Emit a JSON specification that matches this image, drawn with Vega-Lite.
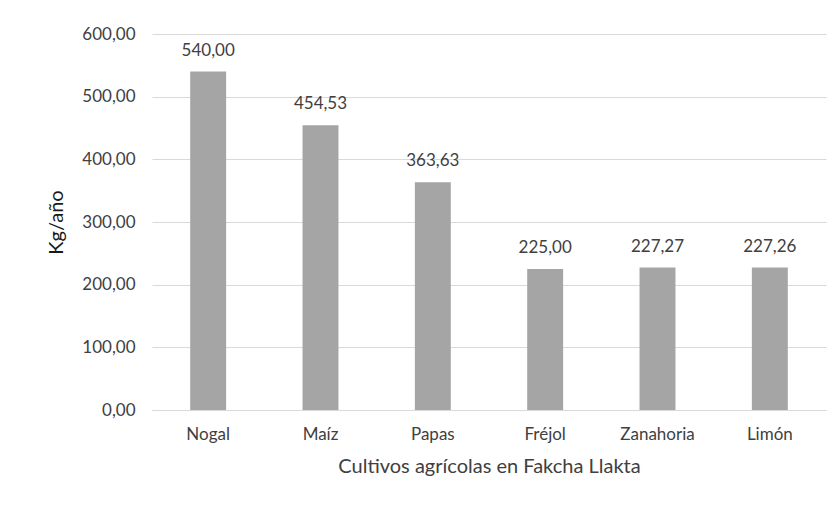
{
  "$schema": "https://vega.github.io/schema/vega-lite/v6.json",
  "width": 674,
  "height": 376,
  "autosize": {"type": "none"},
  "padding": {"left": 152, "top": 34, "right": 14, "bottom": 101},
  "background": "white",
  "config": {
    "view": {"stroke": null},
    "font": "Lato",
    "locale": {
      "number": {
        "decimal": ",",
        "thousands": ".",
        "grouping": [3],
        "currency": ["", " €"]
      }
    }
  },
  "data": {
    "values": [
      {"cultivo": "Nogal", "kg": 540.00},
      {"cultivo": "Maíz", "kg": 454.53},
      {"cultivo": "Papas", "kg": 363.63},
      {"cultivo": "Fréjol", "kg": 225.00},
      {"cultivo": "Zanahoria", "kg": 227.27},
      {"cultivo": "Limón", "kg": 227.26}
    ]
  },
  "encoding": {
    "x": {
      "field": "cultivo",
      "type": "nominal",
      "sort": null,
      "scale": {"paddingInner": 0.68, "paddingOuter": 0.34},
      "axis": {
        "title": "Cultivos agrícolas en Fakcha Llakta",
        "titleFont": "Lato",
        "titleFontSize": 20,
        "titleFontWeight": "normal",
        "titleColor": "#404040",
        "titlePadding": 14,
        "labelAngle": 0,
        "labelFont": "Lato",
        "labelFontSize": 17,
        "labelColor": "#404040",
        "labelPadding": 16,
        "ticks": false,
        "domainColor": "#d9d9d9",
        "domainWidth": 1
      }
    },
    "y": {
      "field": "kg",
      "type": "quantitative",
      "scale": {"domain": [0, 600]},
      "axis": {
        "title": "Kg/año",
        "titleFont": "Lato",
        "titleFontSize": 20,
        "titleFontWeight": "normal",
        "titleColor": "#1a1a1a",
        "titlePadding": 15,
        "values": [0, 100, 200, 300, 400, 500, 600],
        "format": ".2f",
        "labelFont": "Lato",
        "labelFontSize": 17,
        "labelColor": "#404040",
        "labelPadding": 17,
        "ticks": false,
        "domain": false,
        "gridColor": "#d9d9d9",
        "gridWidth": 1
      }
    }
  },
  "layer": [
    {
      "mark": {"type": "bar", "color": "#a5a5a5"}
    },
    {
      "mark": {
        "type": "text",
        "baseline": "bottom",
        "dy": -12,
        "fontSize": 17,
        "font": "Lato",
        "color": "#404040"
      },
      "encoding": {
        "text": {"field": "kg", "type": "quantitative", "format": ".2f"}
      }
    }
  ]
}
